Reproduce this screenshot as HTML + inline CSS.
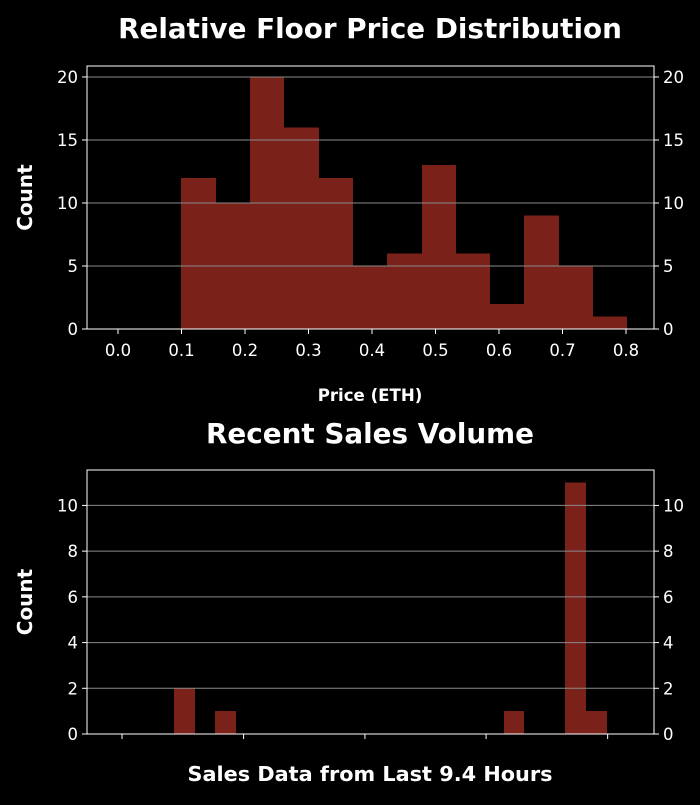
<!DOCTYPE html>
<html><head><meta charset="utf-8"><style>
body{margin:0;background:#000;}
svg text{font-family:"DejaVu Sans","Liberation Sans",sans-serif;fill:#fff;}
</style></head><body>
<svg id="c" width="700" height="800" xmlns="http://www.w3.org/2000/svg">
<rect width="700" height="800" fill="#000"/>
</svg>
<script>
// Top histogram data
const priceBinStarts = [0.1,0.154,0.208,0.262,0.316,0.370,0.424,0.478,0.532,0.586,0.640,0.694,0.748];
const priceBinWidth = 0.054;
const priceCounts = [12,10,20,16,12,5,6,13,6,2,9,5,1];
const priceTicks = [0.0,0.1,0.2,0.3,0.4,0.5,0.6,0.7,0.8];
const priceTickLabels = ["0.0","0.1","0.2","0.3","0.4","0.5","0.6","0.7","0.8"];
const countTicksTop = [0,5,10,15,20];
// Bottom histogram data
const salesBins = [0,2,16,19,20];
const salesCounts = [2,1,1,11,1];
const salesXTicks = [-2.52,3.38,9.27,15.15,21.05];
const countTicksBottom = [0,2,4,6,8,10];

const svg = document.getElementById('c');
const NS = 'http://www.w3.org/2000/svg';
function mk(tag, attrs, parent){const e=document.createElementNS(NS,tag);for(const k in attrs)e.setAttribute(k,attrs[k]);(parent||svg).appendChild(e);return e;}

function panel(o){
  const g = mk('g',{});
  
  
  const xs = v => o.x0 + (v - o.xd0)/(o.xd1 - o.xd0)*(o.x1 - o.x0);
  const ys = v => o.y1 - (v - o.yd0)/(o.yd1 - o.yd0)*(o.y1 - o.y0);
  o.starts.forEach((s,i)=>{
    const r = mk('rect',{x:Math.round(xs(s)),y:ys(o.counts[i]),width:Math.round(xs(s+o.bw))-Math.round(xs(s)),height:ys(0)-ys(o.counts[i]),fill:'#7a2119','shape-rendering':'crispEdges'},g);
    
    
  });
  o.yticks.forEach(t=>{
    const y = ys(t);
    const gl = mk('line',{x1:o.x0,x2:o.x1,y1:y,y2:y,stroke:'#8a8a8a','stroke-width':1},g);
    
    
    mk('line',{x1:o.x0-5,x2:o.x0,y1:y,y2:y,stroke:'#fff'},g);
    mk('line',{x1:o.x1,x2:o.x1+5,y1:y,y2:y,stroke:'#fff'},g);
    const tl = mk('text',{x:o.x0-9,y:y+6,'text-anchor':'end','font-size':16.5},g);
    tl.textContent = t;
    
    
    const tr = mk('text',{x:o.x1+9,y:y+6,'text-anchor':'start','font-size':16.5},g);
    tr.textContent = t;
    
    
  });
  o.xticks.forEach((t,i)=>{
    const x = xs(t);
    mk('line',{x1:x,x2:x,y1:o.y1,y2:o.y1+5,stroke:'#fff'},g);
    if(o.xlabels){
      const tx = mk('text',{x:x,y:o.y1+27,'text-anchor':'middle','font-size':16.5},g);
      tx.textContent = o.xlabels[i];
      
      
    }
  });
  const fr = mk('rect',{x:o.x0,y:o.y0,width:o.x1-o.x0,height:o.y1-o.y0,fill:'none',stroke:'#fff','stroke-width':1},g);
  
  
  const t = mk('text',{x:370,y:o.titleY,'text-anchor':'middle','font-size':o.titleSize,'font-weight':'bold'},g);
  t.textContent = o.title;
  
  
  const yl = mk('text',{x:0,y:0,'text-anchor':'middle','font-size':20,'font-weight':'bold',transform:`translate(32,${(o.y0+o.y1)/2}) rotate(-90)`},g);
  yl.textContent = 'Count';
  
  
  const xl = mk('text',{x:370,y:o.xlabelY,'text-anchor':'middle','font-size':o.xlabelSize,'font-weight':'bold'},g);
  xl.textContent = o.xlabel;
  
  
}

panel({name:'price-histogram',x0:87,x1:654,y0:66,y1:329,xd0:-0.0488,xd1:0.8441,yd0:0,yd1:20.87,
  starts:priceBinStarts,counts:priceCounts,bw:priceBinWidth,yticks:countTicksTop,xticks:priceTicks,xlabels:priceTickLabels,
  title:'Relative Floor Price Distribution',titleY:38,titleSize:27.8,xlabel:'Price (ETH)',xlabelY:401,xlabelSize:16.6});
panel({name:'sales-histogram',x0:87,x1:654,y0:470,y1:734,xd0:-4.22,xd1:23.3,yd0:0,yd1:11.55,
  starts:salesBins,counts:salesCounts,bw:1,yticks:countTicksBottom,xticks:salesXTicks,xlabels:null,
  title:'Recent Sales Volume',titleY:443,titleSize:27.8,xlabel:'Sales Data from Last 9.4 Hours',xlabelY:781,xlabelSize:20.8});
</script>
</body></html>
